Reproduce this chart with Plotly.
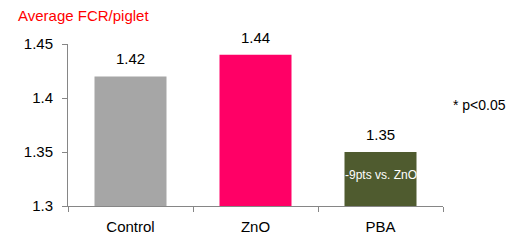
import plotly.graph_objects as go

categories = ["Control", "ZnO", "PBA"]
values = [1.42, 1.44, 1.35]
value_labels = ["1.42", "1.44", "1.35"]
colors = ["#A6A6A6", "#FF0066", "#4F5B2F"]
y_ticks = [1.3, 1.35, 1.4, 1.45]
y_tick_labels = ["1.3", "1.35", "1.4", "1.45"]
inner_text = "-9pts vs. ZnO"
title_text = "Average FCR/piglet"
note_text = "* p<0.05"

FONT = "Liberation Sans"
W, H = 517, 243
ml, mr, mt, mb = 68, 74, 44, 37
pw, ph = W - ml - mr, H - mt - mb


def px(xp):
    return (xp - ml) / pw


def py(yp):
    return (H - mb - yp) / ph


fig = go.Figure()
fig.add_trace(go.Bar(
    x=categories, y=values, marker=dict(color=colors, line=dict(width=0)),
    showlegend=False, hoverinfo="skip",
))

annotations = []
for c, v, lab in zip(categories, values, value_labels):
    annotations.append(dict(x=c, y=v, xref="x", yref="y", text=lab, showarrow=False,
                            yanchor="bottom", yshift=7, font=dict(family=FONT, size=15, color="#000000")))
annotations.append(dict(x=categories[2], y=(1.3 + values[2]) / 2, xref="x", yref="y", text=inner_text,
                        showarrow=False, yshift=4, font=dict(family=FONT, size=12, color="#FFFFFF")))
annotations.append(dict(x=px(16), y=py(16), xref="paper", yref="paper", text=title_text, showarrow=False,
                        xanchor="left", yanchor="middle", font=dict(family=FONT, size=15, color="#FF0000")))
annotations.append(dict(x=px(451), y=py(105), xref="paper", yref="paper", text=note_text, showarrow=False,
                        xanchor="left", yanchor="middle", font=dict(family=FONT, size=14, color="#000000")))

fig.update_layout(
    annotations=annotations,
    width=W, height=H,
    margin=dict(l=ml, r=mr, t=mt, b=mb, pad=0, autoexpand=False),
    paper_bgcolor="white", plot_bgcolor="white",
    bargap=0.424,
    font=dict(family=FONT, size=14, color="#000000"),
    xaxis=dict(showline=True, linecolor="#868686", linewidth=1, ticks="outside", ticklen=5,
               tickcolor="#868686", showgrid=False, tickson="boundaries", ticklabelstandoff=7,
               automargin=False,
               tickfont=dict(family=FONT, size=15, color="#000000")),
    yaxis=dict(range=[1.3, 1.45], tickvals=y_ticks, ticktext=y_tick_labels, showline=True,
               linecolor="#868686", linewidth=1, ticks="outside", ticklen=5, tickcolor="#868686",
               showgrid=False, zeroline=False, ticklabelstandoff=6, automargin=False,
               tickfont=dict(family=FONT, size=15, color="#000000")),
)

fig.write_html("out.html")
